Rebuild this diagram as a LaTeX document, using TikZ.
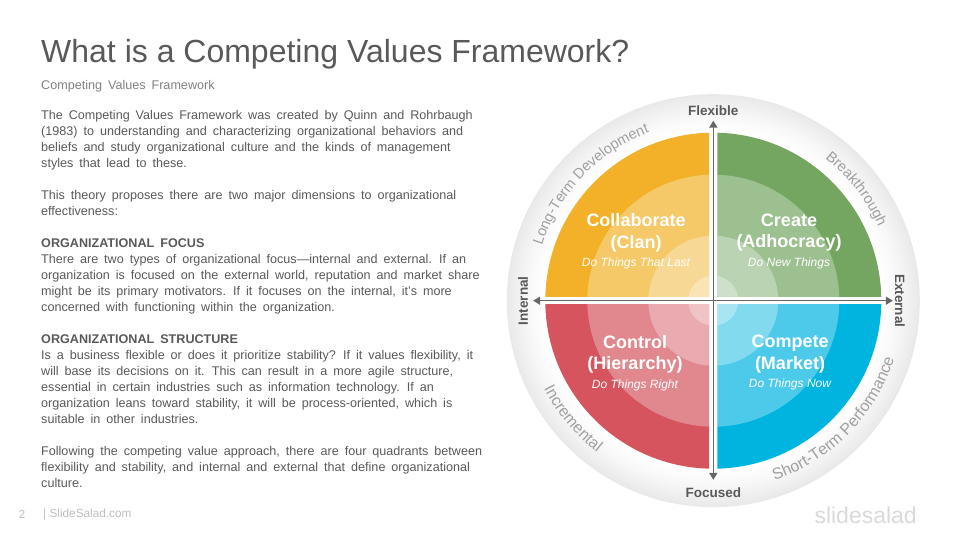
\documentclass[tikz,border=0pt]{standalone}
\usepackage{xcolor}
\usepackage{fontspec}
\setmainfont{Liberation Sans}
\newfontfamily\slidefont[WordSpace=1.7]{Liberation Sans}
\definecolor{SlideGrey}{HTML}{595959}
\definecolor{SubGrey}{HTML}{808080}
\definecolor{CurveGrey}{HTML}{A0A0A0}
\definecolor{FootGrey}{HTML}{BDBDBD}
\definecolor{LogoGrey}{HTML}{DADADA}
\definecolor{AxisGrey}{HTML}{666666}
\definecolor{ClanOrange}{HTML}{F2B128}
\definecolor{AdhocGreen}{HTML}{74A662}
\definecolor{HierRed}{HTML}{D5545E}
\definecolor{MarketBlue}{HTML}{00B4E0}
\usepackage{tikz}
\usetikzlibrary{arrows.meta, positioning, calc, decorations.text}
\tikzstyle{headline} = [text=SlideGrey, inner sep=0pt, anchor=west, font=\fontsize{32}{38}\selectfont]
\tikzstyle{subline} = [text=SubGrey, inner sep=0pt, anchor=west, font=\slidefont\fontsize{12.6}{16}\selectfont]
\tikzstyle{bodytext} = [text=SlideGrey, inner sep=0pt, anchor=north west, align=left, font=\slidefont\fontsize{12.6}{16}\selectfont]
\tikzstyle{quadname} = [text=white, inner sep=0pt, font=\fontsize{18}{22}\selectfont\bfseries]
\tikzstyle{quadnote} = [text=white, inner sep=0pt, font=\fontsize{12}{14}\selectfont\itshape]
\tikzstyle{axislabel} = [text=SlideGrey, inner sep=0pt, font=\fontsize{13.5}{16}\selectfont\bfseries]
\tikzstyle{axis} = [draw=AxisGrey, line width=1.5pt, {Stealth[length=7pt,width=8pt,inset=0pt]}-{Stealth[length=7pt,width=8pt,inset=0pt]}]
\tikzstyle{curved} = [decorate, decoration={text along path, text align=center, text color=CurveGrey}]
\begin{document}
\begin{tikzpicture}[x=1pt, y=1pt]
        \useasboundingbox (0,0) rectangle (960,540);
        \coordinate (cen) at (713.3,239.3);

        % --- header ---
        \node [headline] (title) at (41,485.5) {What is a Competing Values Framework?};
        \node [subline] (subtitle) at (41,453.5) {Competing Values Framework};

        % --- left text ---
        \node [bodytext] (body) at (41,430) {The Competing Values Framework was created by Quinn and Rohrbaugh\\
            (1983) to understanding and characterizing organizational behaviors and\\
            beliefs and study organizational culture and the kinds of management\\
            styles that lead to these.\\[16pt]
            This theory proposes there are two major dimensions to organizational\\
            effectiveness:\\[16pt]
            \textbf{ORGANIZATIONAL FOCUS}\\
            There are two types of organizational focus—internal and external. If an\\
            organization is focused on the external world, reputation and market share\\
            might be its primary motivators. If it focuses on the internal, it’s more\\
            concerned with functioning within the organization.\\[16pt]
            \textbf{ORGANIZATIONAL STRUCTURE}\\
            Is a business flexible or does it prioritize stability? If it values flexibility, it\\
            will base its decisions on it. This can result in a more agile structure,\\
            essential in certain industries such as information technology. If an\\
            organization leans toward stability, it will be process-oriented, which is\\
            suitable in other industries.\\[16pt]
            Following the competing value approach, there are four quadrants between\\
            flexibility and stability, and internal and external that define organizational\\
            culture.};

        % --- outer ring ---
        \foreach \p in {0,1,...,20} {
            \pgfmathsetmacro{\r}{206.5-\p*1.925}
            \pgfmathsetmacro{\shadeval}{8.5*((20-\p)/20)^1.4}
            \fill [black!\shadeval!white] (cen) circle (\r);
        }

        % --- quadrants ---
        \foreach \qcol/\xa/\ya/\xb/\yb in {ClanOrange/540/243.3/709/410, AdhocGreen/717.3/243.3/885/410, HierRed/540/235/709/68, MarketBlue/717.3/235/885/68} {
            \begin{scope}
                \clip (\xa,\ya) rectangle (\xb,\yb);
                \fill [\qcol] (cen) circle (168);
                \foreach \r in {126,65,25}
                    \fill [white, opacity=0.3] (cen) circle (\r);
            \end{scope}
        }

        % --- ring labels ---
        \path [curved, decoration={text={|\fontsize{14.6}{16}\selectfont|Long-Term Development}}] ($(cen)+(170:180)$) arc (170:103:180);
        \path [curved, decoration={text={|\fontsize{14.6}{16}\selectfont|Breakthrough}}] ($(cen)+(60:181)$) arc (60:16:181);
        \path [curved, decoration={text={|\fontsize{16}{18}\selectfont|Incremental}}] ($(cen)+(195:191)$) arc (195:245:191);
        \path [curved, decoration={text={|\fontsize{16}{18}\selectfont|Short-Term Performance}}] ($(cen)+(-85:190)$) arc (-85:-4:190);

        % --- quadrant labels ---
        \node [quadname] (collab) at (636,320) {Collaborate};
        \node [quadname, below=8.5pt of collab] (clan) {(Clan)};
        \node [quadnote] (lastnote) at (636,277) {Do Things That Last};
        \node [quadname] (create) at (789,320) {Create};
        \node [quadname] (adhoc) at (789,297) {(Adhocracy)};
        \node [quadnote] (newnote) at (789,277) {Do New Things};
        \node [quadname] (control) at (635,198) {Control};
        \node [quadname] (hier) at (635,175) {(Hierarchy)};
        \node [quadnote] (rightnote) at (635,155) {Do Things Right};
        \node [quadname] (compete) at (790,197) {Compete};
        \node [quadname] (market) at (790,175) {(Market)};
        \node [quadnote] (nownote) at (790,155.5) {Do Things Now};

        % --- axes ---
        \node [axislabel] (flexible) at (713.3,429.5) {Flexible};
        \node [axislabel] (focused) at (713.3,47) {Focused};
        \node [axislabel, rotate=90] (internal) at (523,239.3) {Internal};
        \node [axislabel, rotate=-90] (external) at (900,239.3) {External};
        \draw [axis, shorten <=5pt, shorten >=8pt] (flexible.south) -- (focused.north);
        \draw [axis, shorten <=5pt, shorten >=2pt] (internal.south) -- (external.south);

        % --- footer ---
        \node [text=FootGrey, inner sep=0pt, font=\fontsize{11.5}{13}\selectfont] (pagenum) at (22,26) {2};
        \node [text=FootGrey, inner sep=0pt, anchor=west, font=\fontsize{11.8}{13}\selectfont] (site) at (43,26) {| SlideSalad.com};
        \node [text=LogoGrey, inner sep=0pt, anchor=east, font=\fontsize{23}{28}\selectfont] (logo) at (917,25) {slidesalad};
    \end{tikzpicture}
\end{document}
